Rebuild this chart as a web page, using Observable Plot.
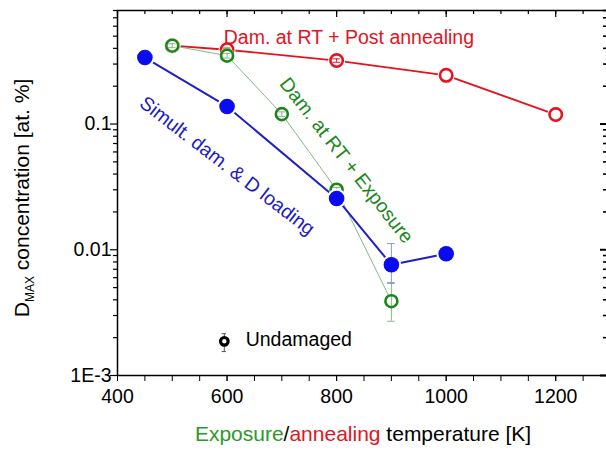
<!DOCTYPE html>
<html><head><meta charset="utf-8">
<script src="https://cdn.jsdelivr.net/npm/d3@7"></script>
<script src="https://cdn.jsdelivr.net/npm/@observablehq/plot@0.6"></script>
<style>
html,body{margin:0;padding:0;background:#fff;overflow:hidden;}
#chart svg{display:block;}
</style></head><body><div id="chart"></div>
<script>
// ---- data ----
const simultT  = [450, 600, 800, 900, 1000];
const simultD  = [0.338, 0.138, 0.0256, 0.0076, 0.0093];
const simultLo = [0.338, 0.138, 0.0256, 0.0054, 0.0093];
const simultHi = [0.338, 0.138, 0.0256, 0.0112, 0.0093];

const exposureT  = [500, 600, 700, 800, 900];
const exposureD  = [0.42, 0.35, 0.12, 0.030, 0.0039];
const exposureLo = [0.405, 0.335, 0.115, 0.0288, 0.0027];
const exposureHi = [0.435, 0.365, 0.125, 0.0313, 0.0055];

const annealT  = [500, 600, 800, 1000, 1200];
const annealD  = [0.42, 0.39, 0.32, 0.244, 0.119];
const annealLo = [0.42, 0.378, 0.31, 0.244, 0.119];
const annealHi = [0.42, 0.402, 0.33, 0.244, 0.119];

const undamagedT  = [595];
const undamagedD  = [0.00187];
const undamagedLo = [0.00155];
const undamagedHi = [0.00215];

const xTickValues = [400, 600, 800, 1000, 1200];
const xTickLabels = ["400", "600", "800", "1000", "1200"];
const yTickValues = [0.001, 0.01, 0.1];
const yTickLabels = ["1E-3", "0.01", "0.1"];

const seriesNames = ["Dam. at RT + Post annealing", "Dam. at RT + Exposure", "Simult. dam. & D loading", "Undamaged"];

// ---- build tables ----
const rows = (T, D, Lo, Hi) => T.map((t, i) => ({t, d: D[i], lo: Lo[i], hi: Hi[i]}));
const blue = rows(simultT, simultD, simultLo, simultHi);
const green = rows(exposureT, exposureD, exposureLo, exposureHi);
const red = rows(annealT, annealD, annealLo, annealHi);
const black = rows(undamagedT, undamagedD, undamagedLo, undamagedHi);

const xMinor = d3.range(400, 1301, 50);
const yMinor = [];
[0.001, 0.01, 0.1].forEach(b => { for (let k = 2; k <= 9; k++) { const v = b * k; if (v <= 0.8) yMinor.push(v); } });

const RED = "#e3141e", GREEN = "#1a861a", GREENLINE = "#86b886", BLUE = "#0b0bf0", BLUELINE = "#1f1fc8";

function errorMarks(data, color, w, cap) {
  const e = data.filter(r => r.hi > r.lo);
  return [
    Plot.ruleX(e, {x: "t", y1: "lo", y2: "hi", stroke: color, strokeWidth: w}),
    Plot.ruleY(e, {y: "lo", x1: r => r.t - cap, x2: r => r.t + cap, stroke: color, strokeWidth: w}),
    Plot.ruleY(e, {y: "hi", x1: r => r.t - cap, x2: r => r.t + cap, stroke: color, strokeWidth: w})
  ];
}

const W = 606, H = 453, ML = 117, MR = -4, MT = 10, MB = 78;
const FW = W - ML - MR, FH = H - MT - MB; // frame size in px
const FS = 19.5;
const plot = Plot.plot({
  width: W, height: H,
  marginLeft: ML, marginRight: MR, marginTop: MT, marginBottom: MB,
  style: {fontFamily: "'Liberation Sans', Arial, sans-serif", fontSize: FS + "px", color: "#000", background: "#fff"},
  x: {domain: [400, 1300]},
  y: {type: "log", domain: [0.001, 0.8]},
  marks: [
    // bottom & left axes (outward ticks)
    Plot.axisX({ticks: xMinor, tickSize: 6, tickFormat: () => "", label: null}),
    Plot.axisX({ticks: xTickValues, tickSize: 6, tickPadding: 8, tickFormat: d => xTickLabels[xTickValues.indexOf(d)], label: null}),
    Plot.axisY({ticks: yMinor, tickSize: 4, strokeWidth: 1.2, tickFormat: () => "", label: null}),
    Plot.axisY({ticks: yTickValues, tickSize: 7, strokeWidth: 1.2, tickPadding: -1, tickFormat: d => yTickLabels[yTickValues.indexOf(d)], label: null}),
    // top & right axes (inward ticks)
    Plot.ruleX(xMinor, {x: d => d, insetBottom: FH - 4, stroke: "#000", strokeWidth: 1.2}),
    Plot.ruleX(xTickValues, {x: d => d, insetBottom: FH - 7, stroke: "#000", strokeWidth: 1.2}),
    Plot.ruleY(yMinor, {y: d => d, insetLeft: FW - 7, stroke: "#000", strokeWidth: 1.6}),
    Plot.ruleY(yTickValues, {y: d => d, insetLeft: FW - 10, stroke: "#000", strokeWidth: 2}),
    Plot.frame({stroke: "#000", strokeWidth: 1.5}),

    // red series: post annealing
    Plot.line(red, {x: "t", y: "d", stroke: RED, strokeWidth: 1.8}),
    Plot.dot(red, {x: "t", y: "d", r: 8.5, fill: "#fff", stroke: "none"}),
    ...errorMarks(red, RED, 1, 7),
    Plot.dot(red, {x: "t", y: "d", r: 6.2, fill: "none", stroke: RED, strokeWidth: 2.6}),

    // green series: exposure
    Plot.line(green, {x: "t", y: "d", stroke: GREENLINE, strokeWidth: 1}),
    Plot.dot(green, {x: "t", y: "d", r: 7.5, fill: "#fff", stroke: "none"}),
    ...errorMarks(green, "#8ab48a", 1, 7),
    Plot.dot(green, {x: "t", y: "d", r: 6, fill: "none", stroke: GREEN, strokeWidth: 2.6}),

    // blue series: simultaneous
    Plot.line(blue, {x: "t", y: "d", stroke: BLUELINE, strokeWidth: 2}),
    Plot.dot(blue, {x: "t", y: "d", r: 9.8, fill: "#fff", stroke: "none"}),
    ...errorMarks(blue, "#8c96d8", 1, 7),
    Plot.dot(blue, {x: "t", y: "d", r: 7.8, fill: BLUE, stroke: "none"}),

    // undamaged
    ...errorMarks(black, "#555", 1, 4),
    Plot.dot(black, {x: "t", y: "d", r: 3.8, fill: "#fff", stroke: "#000", strokeWidth: 3.2}),

    // annotations
    Plot.text([seriesNames[0]], {x: 594, y: 0.489, text: d => d, fill: RED, textAnchor: "start", fontSize: FS}),
    Plot.text([seriesNames[1]], {x: 818, y: 0.0513, text: d => d, fill: GREEN, rotate: 52, fontSize: FS}),
    Plot.text([seriesNames[2]], {x: 600, y: 0.0465, text: d => d, fill: "#1a1acc", rotate: 37.5, fontSize: FS}),
    Plot.text([seriesNames[3]], {x: 634, y: 0.00193, text: d => d, fill: "#000", textAnchor: "start", fontSize: FS})
  ]
});

document.getElementById("chart").appendChild(plot);

// axis titles as real text with coloured / subscript parts
const svg = d3.select(plot);
const xt = svg.append("text")
  .attr("x", 363).attr("y", 441)
  .attr("text-anchor", "middle")
  .attr("font-family", "'Liberation Sans', Arial, sans-serif")
  .attr("font-size", 21);
xt.append("tspan").attr("fill", "#2a9a2a").text("Exposure");
xt.append("tspan").attr("fill", "#000").text("/");
xt.append("tspan").attr("fill", "#e3141e").text("annealing");
xt.append("tspan").attr("fill", "#000").text(" temperature [K]");

const yt = svg.append("text")
  .attr("transform", "translate(29,198) rotate(-90)")
  .attr("text-anchor", "middle")
  .attr("font-family", "'Liberation Sans', Arial, sans-serif")
  .attr("font-size", 21).attr("fill", "#000");
yt.append("tspan").text("D");
yt.append("tspan").attr("font-size", 12).attr("dy", 5).text("MAX");
yt.append("tspan").attr("dy", -5).text(" concentration [at. %]");
</script>
</body></html>
